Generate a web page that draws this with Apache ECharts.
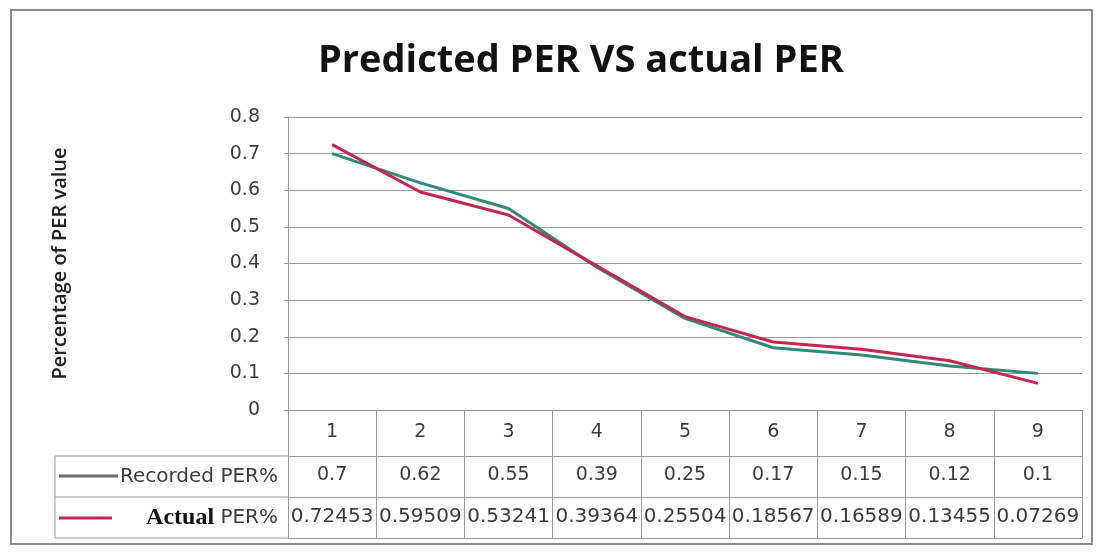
<!DOCTYPE html>
<html>
<head>
<meta charset="utf-8">
<script src="https://cdn.jsdelivr.net/npm/echarts@6/dist/echarts.min.js"></script>
<style>
  html, body { margin: 0; padding: 0; background: #fff; }
  #main { width: 1103px; height: 552px; }
</style>
</head>
<body>
<div id="main"></div>
<script>
// 数据
var categories = ['1', '2', '3', '4', '5', '6', '7', '8', '9'];
var recorded = [0.7, 0.62, 0.55, 0.39, 0.25, 0.17, 0.15, 0.12, 0.1];
var actual = [0.72453, 0.59509, 0.53241, 0.39364, 0.25504, 0.18567, 0.16589, 0.13455, 0.07269];
var yTicks = [0, 0.1, 0.2, 0.3, 0.4, 0.5, 0.6, 0.7, 0.8];

var recColor = '#2f8a78';
var actColor = '#c4264f';
var lineGray = '#999999';
var tableFont = 'DejaVu Sans';
var textColor = '#3c3c3c';

var myChart = echarts.init(document.getElementById('main'));

// 表格中的数值行
var recText = recorded.map(function (v) { return String(v); });
var actText = actual.map(function (v) { return String(v); });

var option = {
    animation: false,
    backgroundColor: '#fff',
    title: {
        text: 'Predicted PER VS actual PER',
        left: 313,
        top: 37,
        textStyle: {
            fontFamily: 'Open Sans',
            fontWeight: 'bold',
            fontSize: 38,
            color: '#111'
        }
    },
    grid: {
        left: 288,
        right: 21,
        top: 117,
        height: 293
    },
    xAxis: [
        {   // 第一行: 1..9
            type: 'category',
            data: categories,
            boundaryGap: true,
            axisLine: { show: true, lineStyle: { color: lineGray, width: 1 } },
            axisTick: { show: true, length: 128, lineStyle: { color: lineGray, width: 1 } },
            axisLabel: { margin: 13, fontFamily: tableFont, fontSize: 19, color: textColor }
        },
        {   // Recorded PER% 行
            type: 'category',
            data: recText,
            position: 'bottom',
            offset: 46,
            axisLine: { show: true, lineStyle: { color: lineGray, width: 1 } },
            axisTick: { show: false },
            axisLabel: { margin: 10, fontFamily: tableFont, fontSize: 19, color: textColor, interval: 0 }
        },
        {   // Actual PER% 行
            type: 'category',
            data: actText,
            position: 'bottom',
            offset: 87,
            axisLine: { show: true, lineStyle: { color: lineGray, width: 1 } },
            axisTick: { show: false },
            axisLabel: { margin: 10, fontFamily: tableFont, fontSize: 20, color: textColor, interval: 0 }
        },
        {   // 表格底线
            type: 'category',
            data: categories,
            position: 'bottom',
            offset: 128,
            axisLine: { show: true, lineStyle: { color: lineGray, width: 1 } },
            axisTick: { show: false },
            axisLabel: { show: false }
        }
    ],
    yAxis: {
        type: 'value',
        min: 0,
        max: 0.8,
        interval: 0.1,
        name: 'Percentage of PER value',
        nameLocation: 'middle',
        nameGap: 218,
        nameTextStyle: { fontFamily: 'Open Sans', fontWeight: 600, fontSize: 20, color: '#222' },
        axisLine: { show: true, lineStyle: { color: lineGray } },
        axisTick: { show: true, length: 4, lineStyle: { color: lineGray } },
        axisLabel: {
            margin: 28,
            fontFamily: tableFont,
            fontSize: 19,
            color: textColor,
            formatter: function (v) {
                var r = Math.round(v * 10) / 10;
                return yTicks.indexOf(r) >= 0 ? String(r) : '';
            }
        },
        splitLine: { show: true, lineStyle: { color: lineGray, width: 1 } }
    },
    series: [
        {
            name: 'Recorded PER%',
            type: 'line',
            data: recorded,
            symbol: 'none',
            lineStyle: { color: recColor, width: 3 },
            z: 2
        },
        {
            name: 'Actual PER%',
            type: 'line',
            data: actual,
            symbol: 'none',
            lineStyle: { color: actColor, width: 3 },
            z: 3
        }
    ],
    graphic: [
        // 外框
        { type: 'rect', shape: { x: 11, y: 10, width: 1081, height: 534 },
          style: { fill: 'none', stroke: '#8c8c8c', lineWidth: 2 }, silent: true },
        // 表格左侧列
        { type: 'line', shape: { x1: 55, y1: 456, x2: 288, y2: 456 }, style: { stroke: lineGray, lineWidth: 1 } },
        { type: 'line', shape: { x1: 55, y1: 497, x2: 288, y2: 497 }, style: { stroke: lineGray, lineWidth: 1 } },
        { type: 'line', shape: { x1: 55, y1: 538, x2: 288, y2: 538 }, style: { stroke: lineGray, lineWidth: 1 } },
        { type: 'line', shape: { x1: 55, y1: 456, x2: 55, y2: 538 }, style: { stroke: lineGray, lineWidth: 1 } },
        // 图例
        { type: 'line', shape: { x1: 59, y1: 476, x2: 118, y2: 476 }, style: { stroke: '#6b6b6b', lineWidth: 3 } },
        { type: 'line', shape: { x1: 59, y1: 518, x2: 112, y2: 518 }, style: { stroke: actColor, lineWidth: 3 } },
        { type: 'text', x: 278, y: 477,
          style: { text: 'Recorded PER%', align: 'right', verticalAlign: 'middle',
                   font: '20px "' + tableFont + '"', fill: textColor } },
        { type: 'text', x: 278, y: 518,
          style: { text: '{b|Actual} PER%', align: 'right', verticalAlign: 'middle',
                   font: '20px "' + tableFont + '"', fill: textColor,
                   rich: { b: { fontFamily: 'Liberation Serif', fontWeight: 'bold', fontSize: 24, fill: '#111' } } } }
    ]
};

myChart.setOption(option);
</script>
</body>
</html>
